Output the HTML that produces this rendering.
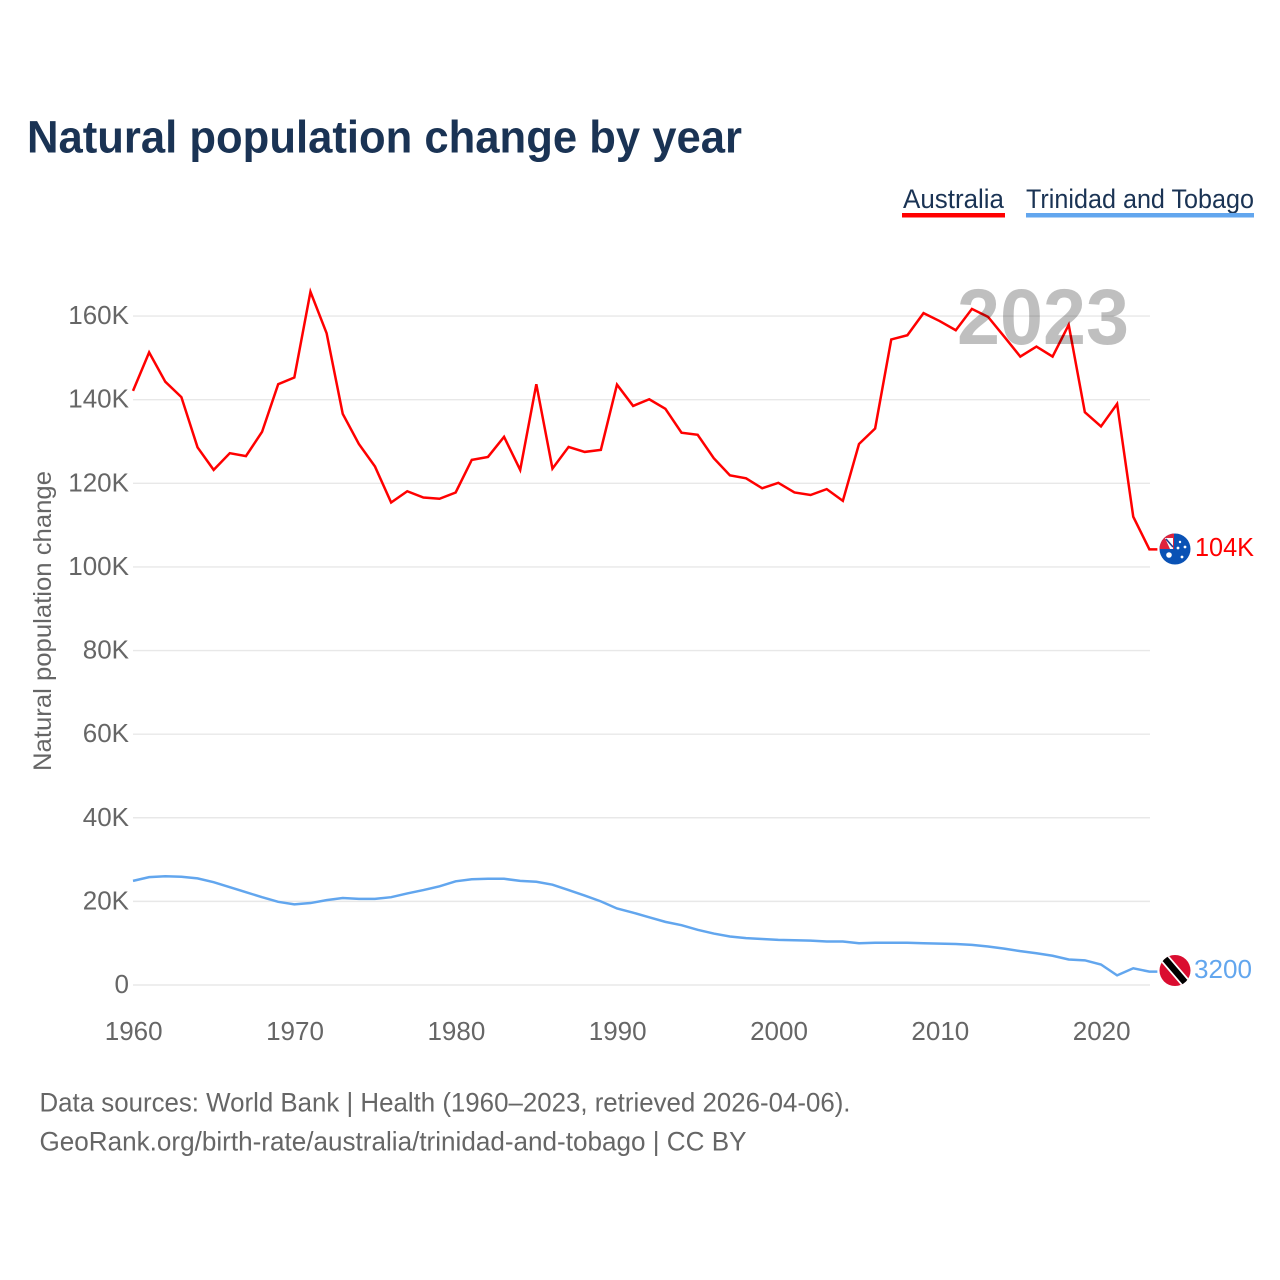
<!DOCTYPE html>
<html lang="en">
<head>
<meta charset="utf-8">
<title>Natural population change by year</title>
<style>
html,body{margin:0;padding:0;background:#fff;}
svg{display:block;font-family:"Liberation Sans",sans-serif;}
</style>
</head>
<body>
<svg id="chart" xmlns="http://www.w3.org/2000/svg" width="1280" height="1280" viewBox="0 0 1280 1280">
  <defs>
    <clipPath id="au-clip"><circle cx="1175" cy="549" r="15.5"/></clipPath>
    <clipPath id="tt-clip"><circle cx="1175" cy="970.5" r="15.5"/></clipPath>
  </defs>
  <text x="27" y="152.5" font-size="45" font-weight="700" fill="#1a3354" textLength="715" lengthAdjust="spacingAndGlyphs">Natural population change by year</text>

  <g>
    <g>
      <text x="903" y="208" font-size="27" fill="#1a3354" textLength="101" lengthAdjust="spacingAndGlyphs">Australia</text>
      <rect x="902" y="213" width="103" height="4.5" fill="#ff0000"/>
    </g>
    <g>
      <text x="1026" y="208" font-size="27" fill="#1a3354" textLength="228" lengthAdjust="spacingAndGlyphs">Trinidad and Tobago</text>
      <rect x="1026" y="213" width="228" height="4.5" fill="#62a6ee"/>
    </g>
  </g>

  <g id="grid"></g>
  <g id="y-ticks"></g>
  <g id="x-ticks"></g>

  <text transform="translate(51,621) rotate(-90)" text-anchor="middle" font-size="25" fill="#666666" textLength="300" lengthAdjust="spacingAndGlyphs">Natural population change</text>

  <g id="series"></g>

  <text x="1129" y="344" text-anchor="end" font-size="79" font-weight="700" fill="#000000" fill-opacity="0.25" textLength="172" lengthAdjust="spacingAndGlyphs">2023</text>

  <g clip-path="url(#au-clip)">
    <rect x="1158" y="532" width="34" height="34" fill="#0a52b5"/>
    <rect x="1158" y="532" width="16" height="17" fill="#e0243c"/>
    <path d="M1165 538h8v11h-3z" fill="#ffffff"/>
    <path d="M1166 539l7 8" stroke="#1f3f8f" stroke-width="1.6" fill="none"/>
    <circle cx="1169" cy="555" r="2.8" fill="#ffffff"/>
    <circle cx="1178" cy="548" r="1.4" fill="#ffffff"/>
    <circle cx="1180" cy="542" r="1.2" fill="#ffffff"/>
    <circle cx="1185" cy="547" r="1.4" fill="#ffffff"/>
    <circle cx="1182" cy="557" r="1.4" fill="#ffffff"/>
  </g>

  <g clip-path="url(#tt-clip)">
    <rect x="1158" y="953" width="34" height="36" fill="#da0d30"/>
    <path d="M1160 953l30 35" stroke="#ffffff" stroke-width="10" fill="none"/>
    <path d="M1160 953l30 35" stroke="#000000" stroke-width="6.5" fill="none"/>
  </g>

  <text id="label-au" x="1195" y="556" font-size="26" fill="#ff0000" textLength="59" lengthAdjust="spacingAndGlyphs">104K</text>
  <text id="label-tt" x="1194" y="978" font-size="26" fill="#62a6ee" textLength="58" lengthAdjust="spacingAndGlyphs">3200</text>

  <g>
    <text x="39.5" y="1111.5" font-size="27" fill="#666666" textLength="811" lengthAdjust="spacingAndGlyphs">Data sources: World Bank | Health (1960–2023, retrieved 2026-04-06).</text>
    <text x="39.5" y="1150.5" font-size="27" fill="#666666" textLength="707" lengthAdjust="spacingAndGlyphs">GeoRank.org/birth-rate/australia/trinidad-and-tobago | CC BY</text>
  </g>
</svg>
<script>
const startYear = 1960;
const australia = [142.1,151.3,144.3,140.6,128.6,123.2,127.2,126.5,132.3,143.7,145.3,165.8,155.9,136.6,129.4,124.0,115.4,118.1,116.6,116.3,117.8,125.6,126.3,131.1,123.2,143.7,123.5,128.7,127.5,128.0,143.6,138.5,140.1,137.8,132.1,131.6,126.0,121.9,121.2,118.8,120.1,117.8,117.2,118.6,115.8,129.4,133.1,154.4,155.4,160.7,158.8,156.6,161.7,159.8,155.1,150.3,152.7,150.3,157.9,137.0,133.6,139.0,112.0,104.2];
const trinidadAndTobago = [24.9,25.8,26.0,25.9,25.5,24.6,23.4,22.2,21.0,19.9,19.3,19.6,20.3,20.8,20.6,20.6,21.0,21.9,22.7,23.6,24.8,25.3,25.4,25.4,24.9,24.7,24.0,22.7,21.4,20.0,18.3,17.3,16.2,15.1,14.3,13.2,12.3,11.6,11.2,11.0,10.8,10.7,10.6,10.4,10.4,10.0,10.1,10.1,10.1,10.0,9.9,9.8,9.6,9.2,8.7,8.1,7.6,7.0,6.1,5.9,4.9,2.3,4.0,3.2];
const yTickValues = [0,20,40,60,80,100,120,140,160];
const yTickLabels = ["0","20K","40K","60K","80K","100K","120K","140K","160K"];
const xTickYears = [1960,1970,1980,1990,2000,2010,2020];
const xTickLabels = ["1960","1970","1980","1990","2000","2010","2020"];

const NS = "http://www.w3.org/2000/svg";
function xScale(year){ return 133 + (year - 1960) * 16.133; }
function yScale(v){ return 985 - v * 4.181; }

const gridG = document.getElementById("grid");
const yG = document.getElementById("y-ticks");
const xG = document.getElementById("x-ticks");
const seriesG = document.getElementById("series");

yTickValues.forEach(function(v, i){
  const line = document.createElementNS(NS, "line");
  
  
  line.setAttribute("x1", 133);
  line.setAttribute("x2", 1150);
  line.setAttribute("y1", yScale(v));
  line.setAttribute("y2", yScale(v));
  line.setAttribute("stroke", "#e8e8e8");
  line.setAttribute("stroke-width", "1.4");
  gridG.appendChild(line);

  const t = document.createElementNS(NS, "text");
  
  
  t.setAttribute("x", 129);
  t.setAttribute("y", yScale(v) + 8);
  t.setAttribute("text-anchor", "end");
  t.setAttribute("font-size", "26");
  t.setAttribute("fill", "#666666");
  t.textContent = yTickLabels[i];
  yG.appendChild(t);
});

xTickYears.forEach(function(yr, i){
  const t = document.createElementNS(NS, "text");
  
  
  t.setAttribute("x", xScale(yr) + 0.7);
  t.setAttribute("y", 1040);
  t.setAttribute("text-anchor", "middle");
  t.setAttribute("font-size", "26");
  t.setAttribute("fill", "#666666");
  t.textContent = xTickLabels[i];
  xG.appendChild(t);
});

function linePath(values){
  let d = "";
  values.forEach(function(v, i){
    d += (i ? "L" : "M") + xScale(startYear + i).toFixed(2) + " " + yScale(v).toFixed(2);
  });
  d += "L" + (xScale(startYear + values.length - 1) + 8).toFixed(2) + " " + yScale(values[values.length - 1]).toFixed(2);
  return d;
}

const trinidadLine = document.createElementNS(NS, "path");


trinidadLine.setAttribute("d", linePath(trinidadAndTobago));
trinidadLine.setAttribute("fill", "none");
trinidadLine.setAttribute("stroke", "#62a6ee");
trinidadLine.setAttribute("stroke-width", "2.5");
seriesG.appendChild(trinidadLine);

const australiaLine = document.createElementNS(NS, "path");


australiaLine.setAttribute("d", linePath(australia));
australiaLine.setAttribute("fill", "none");
australiaLine.setAttribute("stroke", "#ff0000");
australiaLine.setAttribute("stroke-width", "2.5");
seriesG.appendChild(australiaLine);
</script>
</body>
</html>
